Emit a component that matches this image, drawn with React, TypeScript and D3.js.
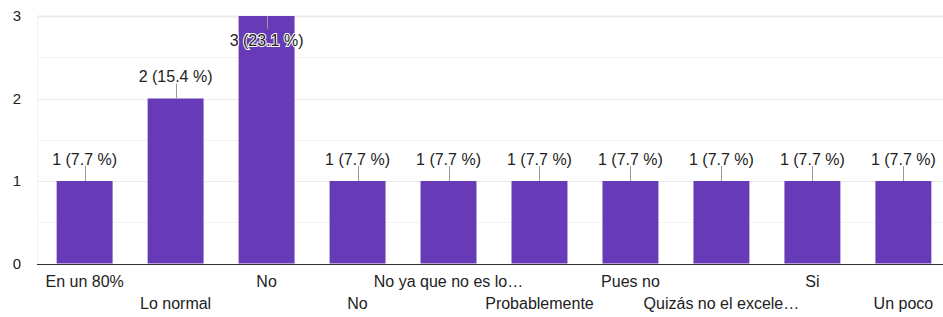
import * as d3 from 'd3';
import React, { useEffect, useRef } from 'react';

// Answers, in the order they appear on the x axis
const categories = [
  'En un 80%',
  'Lo normal',
  'No',
  'No',
  'No ya que no es lo…',
  'Probablemente',
  'Pues no',
  'Quizás no el excele…',
  'Si',
  'Un poco',
];
const counts = [1, 2, 3, 1, 1, 1, 1, 1, 1, 1];
const percents = [7.7, 15.4, 23.1, 7.7, 7.7, 7.7, 7.7, 7.7, 7.7, 7.7];
const yTicks = [0, 1, 2, 3];
const yMinorTicks = [0.5, 1.5, 2.5];

const App = () => {
  const ref = useRef<SVGSVGElement>(null);

  useEffect(() => {
    const width = 943;
    const height = 317;
    const left = 37;
    const top = 16;
    const bottom = 263.5;
    const font = '"Liberation Sans", Arial, sans-serif';

    const svg = d3.select(ref.current);
    svg.selectAll('*').remove();
    svg.attr('width', width).attr('height', height);

    svg.append('rect').attr('width', width).attr('height', height).attr('fill', '#fff');

    const x = d3.scaleBand<number>()
      .domain(categories.map((_, i) => i))
      .range([left, 951])
      .paddingInner(0.385)
      .paddingOuter(0.216);
    const y = d3.scaleLinear().domain([0, 3]).range([bottom, top]);

    // Gridlines
    svg.append('g')
      .selectAll('line')
      .data(yMinorTicks)
      .join('line')
      .attr('x1', left)
      .attr('x2', width)
      .attr('y1', (d) => Math.round(y(d)) + 0.5)
      .attr('y2', (d) => Math.round(y(d)) + 0.5)
      .attr('stroke', '#f3f3f3');
    svg.append('g')
      .selectAll('line')
      .data(yTicks.slice(1))
      .join('line')
      .attr('x1', left)
      .attr('x2', width)
      .attr('y1', (d) => Math.round(y(d)) + 0.5)
      .attr('y2', (d) => Math.round(y(d)) + 0.5)
      .attr('stroke', '#ebebeb')
      .attr('stroke-width', (d) => (d === 3 ? 2 : 1));
    svg.append('line')
      .attr('x1', left + 0.5)
      .attr('x2', left + 0.5)
      .attr('y1', top)
      .attr('y2', bottom)
      .attr('stroke', '#f3f3f3');

    // Y tick labels
    svg.append('g')
      .selectAll('text')
      .data(yTicks)
      .join('text')
      .attr('x', 21)
      .attr('y', (d) => y(d))
      .attr('dy', '0.35em')
      .attr('text-anchor', 'end')
      .attr('font-family', font)
      .attr('font-size', 15)
      .attr('fill', '#222')
      .text((d) => d);

    // Bars
    svg.append('g')
      .selectAll('rect')
      .data(counts)
      .join('rect')
      .attr('x', (_, i) => x(i)!)
      .attr('y', (d) => y(d))
      .attr('width', x.bandwidth())
      .attr('height', (d) => bottom - y(d))
      .attr('fill', '#673ab7');

    // Baseline
    svg.append('line')
      .attr('x1', left)
      .attr('x2', width)
      .attr('y1', Math.round(bottom) + 0.5)
      .attr('y2', Math.round(bottom) + 0.5)
      .attr('stroke', '#333');

    // Data labels with leader lines
    const labels = svg.append('g');
    counts.forEach((d, i) => {
      const cx = x(i)! + x.bandwidth() / 2;
      const inside = d === 3;
      const barTop = y(d);
      const lineEnd = inside ? barTop + 13 : barTop - 15;
      const baseline = inside ? barTop + 30 : barTop - 16.5;
      labels.append('line')
        .attr('x1', Math.round(cx) + 0.5)
        .attr('x2', Math.round(cx) + 0.5)
        .attr('y1', barTop)
        .attr('y2', lineEnd)
        .attr('stroke', '#999');
      const t = labels.append('text')
        .attr('x', cx)
        .attr('y', baseline)
        .attr('text-anchor', 'middle')
        .attr('font-family', font)
        .attr('font-size', 16)
        .attr('fill', '#222')
        .text(`${d} (${percents[i]} %)`);
      if (inside) {
        t.attr('stroke', '#fff').attr('stroke-width', 2).attr('paint-order', 'stroke');
      }
    });

    // X labels, alternating between two rows
    svg.append('g')
      .selectAll('text')
      .data(categories)
      .join('text')
      .attr('x', (_, i) => x(i)! + x.bandwidth() / 2)
      .attr('y', (_, i) => (i % 2 === 0 ? 287 : 309))
      .attr('text-anchor', 'middle')
      .attr('font-family', font)
      .attr('font-size', 16)
      .attr('fill', '#222')
      .text((d) => d);
  }, []);

  return (
    <svg ref={ref} style={{ position: 'absolute', left: 0, top: 0, display: 'block' }}></svg>
  );
};

export default App;
